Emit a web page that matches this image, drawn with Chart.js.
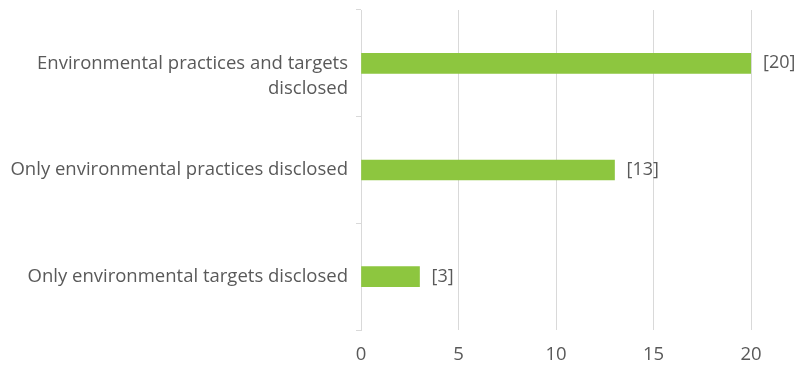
<!DOCTYPE html>
<html>
<head>
<meta charset="utf-8">
<script src="https://cdn.jsdelivr.net/npm/chart.js@4/dist/chart.umd.min.js"></script>
<style>
  html, body { margin: 0; padding: 0; background: #fff; }
  #wrap { width: 800px; height: 370px; }
</style>
</head>
<body>
<div id="wrap"><canvas id="myChart"></canvas></div>
<script>
// first label: blank leading line keeps "Environmental..." level with its bar
let categories = [
    ["", "Environmental practices and targets", "disclosed"],
    "Only environmental practices disclosed",
    "Only environmental targets disclosed"
];
let counts = [20, 13, 3];
let xTicks = [0, 5, 10, 15, 20];

let textColor = '#595959';
let fontFamily = '"Open Sans", Lato, sans-serif';

// writes "[n]" just past the end of every bar
let valueLabels = {
    id: 'valueLabels',
    afterDatasetsDraw(chart) {
        let ctx = chart.ctx;
        let meta = chart.getDatasetMeta(0);
        ctx.save();
        ctx.font = '18px ' + fontFamily;
        ctx.fillStyle = textColor;
        ctx.textAlign = 'left';
        ctx.textBaseline = 'middle';
        meta.data.forEach((bar, i) => {
            ctx.fillText('[' + counts[i] + ']', bar.x + 12, bar.y);
        });
        ctx.restore();
    }
};

let ctx = document.getElementById('myChart').getContext('2d');
let chart = new Chart(ctx, {
    type: 'bar',
    data: {
        labels: categories,
        datasets: [{
            data: counts,
            backgroundColor: '#8DC63F',
            barThickness: 20
        }]
    },
    options: {
        indexAxis: 'y',
        responsive: true,
        maintainAspectRatio: false,
        animation: false,
        layout: { padding: { top: 10, right: 49, bottom: 4, left: 0 } },
        plugins: {
            legend: { display: false },
            tooltip: { enabled: false }
        },
        scales: {
            x: {
                min: 0,
                max: 20,
                afterBuildTicks: axis => { axis.ticks = xTicks.map(v => ({ value: v })); },
                afterFit: axis => { axis.height = 36; },
                grid: { color: '#d9d9d9', drawTicks: false },
                border: { display: false },
                ticks: {
                    color: textColor,
                    padding: 14,
                    font: { family: fontFamily, size: 18.5 }
                }
            },
            y: {
                // labels sit mid-band, so they need no extra room above/below the plot
                afterFit: axis => { axis.paddingTop = 0; axis.paddingBottom = 0; axis.width = 361; },
                grid: { offset: true, drawOnChartArea: false, tickLength: 5, color: '#d9d9d9' },
                border: { display: true, color: '#d9d9d9' },
                ticks: {
                    color: textColor,
                    padding: 8,
                    font: { family: fontFamily, size: 18.5, lineHeight: 1.37 }
                }
            }
        }
    },
    plugins: [valueLabels]
});
</script>
</body>
</html>
